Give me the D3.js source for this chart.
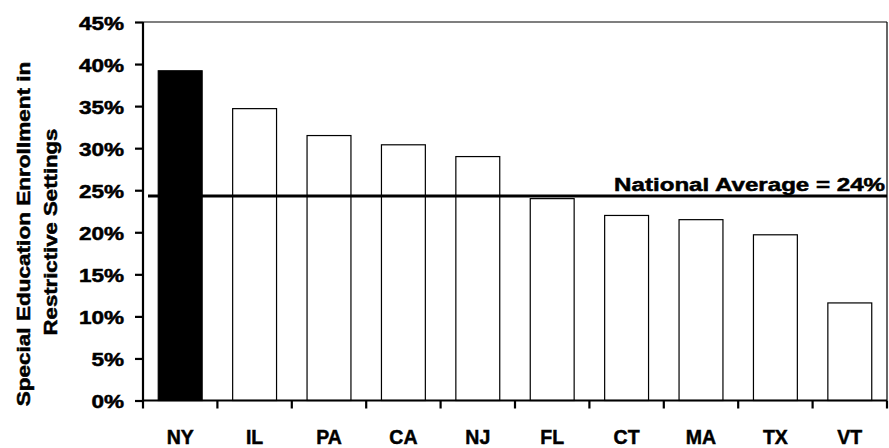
<!DOCTYPE html>
<html>
<head>
<meta charset="utf-8">
<script src="https://cdn.jsdelivr.net/npm/d3@7"></script>
<style>
  html, body { margin: 0; padding: 0; background: #fff; }
  svg { display: block; }
  text { font-family: "Liberation Sans", Arial, sans-serif; font-weight: bold; fill: #000; stroke: #000; stroke-width: 0.5px; }
</style>
</head>
<body>
<svg id="chart" width="889" height="448"></svg>
<script>
const states = ["NY", "IL", "PA", "CA", "NJ", "FL", "CT", "MA", "TX", "VT"];
const values = [0.392, 0.347, 0.315, 0.304, 0.290, 0.240, 0.220, 0.215, 0.197, 0.116];
const highlight = ["NY"];
const nationalAverage = 0.243;
const nationalLabel = "National Average = 24%";
const yTicks = [0, 0.05, 0.10, 0.15, 0.20, 0.25, 0.30, 0.35, 0.40, 0.45];
const yTitle = ["Special Education Enrollment in", "Restrictive Settings"];

(function () {
const svg = d3.select("#chart");
const pLeft = 143, pRight = 887, pTop = 22, pBottom = 400.5;

const x = d3.scaleBand().domain(states).range([pLeft, pRight]).paddingInner(0).paddingOuter(0);
const y = d3.scaleLinear().domain([0, 0.45]).range([pBottom, pTop]);

// frame (top & right)
svg.append("line").attr("x1", pLeft).attr("x2", pRight).attr("y1", pTop).attr("y2", pTop)
  .attr("stroke", "#000").attr("stroke-width", 1.2);
svg.append("line").attr("x1", pRight).attr("x2", pRight).attr("y1", pTop).attr("y2", pBottom)
  .attr("stroke", "#000").attr("stroke-width", 1.2);

// bars
const bw = x.bandwidth() * 0.59;
svg.append("g").selectAll("rect").data(states).join("rect")
  .attr("x", (d) => x(d) + x.bandwidth() / 2 - bw / 2)
  .attr("y", (d, i) => y(values[i]))
  .attr("width", bw)
  .attr("height", (d, i) => y(0) - y(values[i]))
  .attr("fill", (d) => highlight.includes(d) ? "#000" : "#fff")
  .attr("stroke", "#000")
  .attr("stroke-width", 1.2);

// national average line
svg.append("line")
  .attr("x1", pLeft + 5).attr("x2", pRight)
  .attr("y1", y(nationalAverage)).attr("y2", y(nationalAverage))
  .attr("stroke", "#000").attr("stroke-width", 3);

// helper: stretch text along its own direction to a target width
function fitWidth(sel, target, pre) {
  const w = sel.node().getComputedTextLength();
  sel.attr("transform", `${pre} scale(${target / w},1)`);
}

const nat = svg.append("text")
  .attr("text-anchor", "end")
  .style("font-size", "18.5px")
  .text(nationalLabel);
fitWidth(nat, 271, `translate(${pRight - 2},${y(nationalAverage) - 5.5})`);

// y axis
const yAxis = svg.append("g").attr("transform", `translate(${pLeft},0)`)
  .call(d3.axisLeft(y).tickValues(yTicks).tickFormat(d3.format(".0%")).tickSize(8).tickPadding(11));
yAxis.select(".domain").attr("stroke-width", 2.2).attr("d", `M0,${pTop}V${pBottom}`);
yAxis.selectAll(".tick line").attr("stroke-width", 2.2);
yAxis.selectAll(".tick text")
  .style("font-size", "18px").style("font-family", "Liberation Sans, Arial, sans-serif").style("font-weight", "bold")
  .style("stroke", "#000").style("stroke-width", "0.5px")
  .attr("x", 0)
  .attr("dy", "0.4em")
  .attr("transform", "translate(-19,0) scale(1.25,1)");

// x axis baseline with ticks at band boundaries
const boundaries = states.map((d) => x(d)).concat([pRight]);
svg.append("line").attr("x1", pLeft - 1).attr("x2", pRight).attr("y1", pBottom).attr("y2", pBottom)
  .attr("stroke", "#000").attr("stroke-width", 2.2);
svg.append("g").selectAll("line").data(boundaries).join("line")
  .attr("x1", (d) => d).attr("x2", (d) => d)
  .attr("y1", pBottom).attr("y2", pBottom + 8)
  .attr("stroke", "#000").attr("stroke-width", 2.2);

svg.append("g").selectAll("text").data(states).join("text")
  .attr("text-anchor", "middle")
  .attr("transform", (d) => `translate(${x(d) + x.bandwidth() / 2},444) scale(0.93,1)`)
  .style("font-size", "21px")
  .text((d) => d);

// y title
const titleCenter = 234;
const t1 = svg.append("text")
  .attr("text-anchor", "middle")
  .style("font-size", "18.5px")
  .text(yTitle[0]);
fitWidth(t1, 345, `translate(30,${titleCenter}) rotate(-90)`);
const t2 = svg.append("text")
  .attr("text-anchor", "middle")
  .style("font-size", "18.5px")
  .text(yTitle[1]);
fitWidth(t2, 207, `translate(57,${titleCenter - 2}) rotate(-90)`);
})();
</script>
</body>
</html>
